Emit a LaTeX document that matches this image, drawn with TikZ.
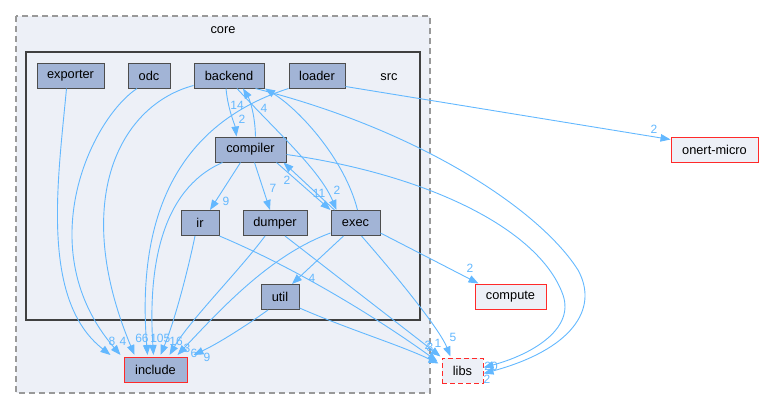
\documentclass[tikz,border=0pt]{standalone}
\usepackage{fontspec}
\setmainfont{Liberation Sans}
\usetikzlibrary{arrows.meta}
\definecolor{edgeblue}{HTML}{63B8FF}
\definecolor{nodefill}{HTML}{A2B4D6}
\definecolor{nodeline}{HTML}{4D4D4D}
\definecolor{clfill}{HTML}{EDF0F7}
\definecolor{coreline}{HTML}{999999}
\definecolor{srcline}{HTML}{404040}
\definecolor{extred}{HTML}{FF2A2A}
\tikzset{
  dirbox/.style={draw=nodeline, line width=1pt, fill=nodefill, minimum height=25pt, inner sep=0pt, font=\fontsize{12.8}{14}\selectfont},
  extbox/.style={draw=extred, line width=1pt, fill=clfill, minimum height=25pt, inner sep=0pt, font=\fontsize{12.8}{14}\selectfont},
  dep/.style={draw=edgeblue, line width=0.9pt, -{Triangle[length=10pt,width=7.5pt]}},
  lbl/.style={text=edgeblue, inner sep=0pt, font=\fontsize{12}{13}\selectfont},
  cltitle/.style={inner sep=0pt, font=\fontsize{12.8}{14}\selectfont}
}
\begin{document}
\begin{tikzpicture}[x=1pt,y=-1pt]
\useasboundingbox (0,0) rectangle (763,410);
% clusters
\draw[coreline, dashed, dash pattern=on 6pt off 4pt, line width=1.2pt, fill=clfill] (16,16) rectangle (430,393);
\node[cltitle] (coretitle) at (223,30) {core};
\draw[srcline, line width=2pt, fill=clfill] (26,52) rectangle (420,320);
\node[cltitle] (srctitle) at (389,77) {src};
% nodes
\node[dirbox, minimum width=67pt] (exporter) at (70.5,75.5) {exporter};
\node[dirbox, minimum width=42pt] (odc) at (149,75.5) {odc};
\node[dirbox, minimum width=70pt] (backend) at (229,75.5) {backend};
\node[dirbox, minimum width=56pt] (loader) at (317,75.5) {loader};
\node[dirbox, minimum width=71pt] (compiler) at (250.5,149.5) {compiler};
\node[dirbox, minimum width=38pt] (ir) at (200,223) {ir};
\node[dirbox, minimum width=64pt] (dumper) at (275,223) {dumper};
\node[dirbox, minimum width=49pt] (exec) at (355.5,223) {exec};
\node[dirbox, minimum width=38pt] (util) at (280,297) {util};
\node[dirbox, draw=extred, minimum width=63pt] (include) at (155.5,370) {include};
\node[extbox, dashed, dash pattern=on 5pt off 3pt, minimum width=41pt] (libs) at (462.5,370.5) {libs};
\node[extbox, minimum width=71pt] (compute) at (510.5,296.5) {compute};
\node[extbox, minimum width=87pt] (onert) at (714.5,149.5) {onert-micro};
% edges into include
\draw[dep] ([xshift=-4pt]exporter.south) .. controls (58,180) and (40,300) .. ([xshift=-45pt,yshift=2pt]include.north);
\draw[dep] ([xshift=-12pt]odc.south) .. controls (90,120) and (30,250) .. ([xshift=-35pt,yshift=2pt]include.north);
\draw[dep] ([yshift=-10pt]backend.west) .. controls (120,105) and (70,200) .. ([xshift=-21pt,yshift=2pt]include.north);
\draw[dep] (loader.south west) .. controls (190,120) and (135,200) .. ([xshift=-8pt,yshift=2pt]include.north);
\draw[dep] ([xshift=-28pt]compiler.south) .. controls (160,190) and (148,270) .. ([xshift=-2pt,yshift=2pt]include.north);
\draw[dep] ([xshift=-5pt]ir.south) .. controls (188,270) and (175,320) .. ([xshift=5pt,yshift=2pt]include.north);
\draw[dep] ([xshift=-10pt]dumper.south) .. controls (240,270) and (190,320) .. ([xshift=14pt,yshift=2pt]include.north);
\draw[dep] ([yshift=-10pt]exec.west) .. controls (270,255) and (220,310) .. ([xshift=22pt,yshift=2pt]include.north);
\draw[dep] ([xshift=-12pt]util.south) .. controls (240,330) and (215,345) .. ([xshift=38pt,yshift=2pt]include.north);
% internal edges
\draw[dep] ([xshift=-10pt]compiler.south) -- ([xshift=10pt]ir.north);
\draw[dep] ([xshift=4pt]compiler.south) -- ([xshift=-5pt]dumper.north);
\draw[dep] ([xshift=26pt]compiler.south) -- (exec.north west);
\draw[dep] ([xshift=4pt]exec.north west) -- ([xshift=-3pt]compiler.south east);
\draw[dep] ([xshift=-3pt]backend.south) .. controls (228,110) and (235,125) .. ([xshift=-14pt]compiler.north);
\draw[dep] ([xshift=5pt]compiler.north) .. controls (255,115) and (250,100) .. ([xshift=14pt]backend.south);
\draw[dep] ([xshift=2pt]exec.north) .. controls (345,160) and (300,110) .. ([xshift=36pt]backend.south);
\draw[dep] ([xshift=8pt]backend.south) .. controls (275,130) and (320,170) .. ([xshift=6pt]exec.north west);
\draw[dep] ([xshift=-12pt]exec.south) -- ([xshift=12pt]util.north);
% edges to libs
\draw[dep] ([xshift=-9pt]backend.south east) .. controls (420,130) and (540,210) .. (578,270) .. controls (600,310) and (570,350) .. ([yshift=-3pt]libs.east);
\draw[dep] ([yshift=-5pt]compiler.east) .. controls (430,175) and (540,230) .. (563,295) .. controls (575,330) and (530,355) .. ([yshift=3pt]libs.east);
\draw[dep] (ir.south east) .. controls (300,270) and (380,320) .. ([xshift=-4pt,yshift=-4pt]libs.north west);
\draw[dep] ([xshift=10pt]dumper.south) -- ([xshift=-1pt,yshift=1pt]libs.north west);
\draw[dep] ([yshift=2pt]util.south east) .. controls (350,330) and (400,345) .. ([xshift=-3pt,yshift=-6pt]libs.north west);
\draw[dep] ([xshift=6pt]exec.south) .. controls (400,280) and (440,330) .. ([xshift=9pt,yshift=1pt]libs.north west);
% external
\draw[dep] ([yshift=-10pt]exec.east) -- ([xshift=4pt]compute.north west);
\draw[dep] ([yshift=-11pt]loader.east) -- ([yshift=10pt]onert.west);
% labels
\node[lbl] (l1) at (112,341) {8};
\node[lbl] (l2) at (123,341) {4};
\node[lbl] (l3) at (142,338) {66};
\node[lbl] (l4) at (157,338) {10};
\node[lbl] (l5) at (167,338) {5};
\node[lbl] (l6) at (176,341) {16};
\node[lbl] (l7) at (187,348) {3};
\node[lbl] (l8) at (194,353) {6};
\node[lbl] (l9) at (207,357) {9};
\node[lbl] (l10) at (226,201) {9};
\node[lbl] (l11) at (273,188) {7};
\node[lbl] (l12) at (287,180) {2};
\node[lbl] (l13) at (319,193) {11};
\node[lbl] (l14) at (337,190) {2};
\node[lbl] (l15) at (237,105) {14};
\node[lbl] (l16) at (242,119) {2};
\node[lbl] (l17) at (264,108) {4};
\node[lbl] (l18) at (312,278) {4};
\node[lbl] (l19) at (470,268) {2};
\node[lbl] (l20) at (654,129) {2};
\node[lbl] (l21) at (428,345) {2};
\node[lbl] (l22) at (430,347) {3};
\node[lbl] (l23) at (438,343) {1};
\node[lbl] (l24) at (453,337) {5};
\node[lbl] (l25) at (491,366) {20};
\node[lbl] (l26) at (487,379) {2};
\end{tikzpicture}
\end{document}
